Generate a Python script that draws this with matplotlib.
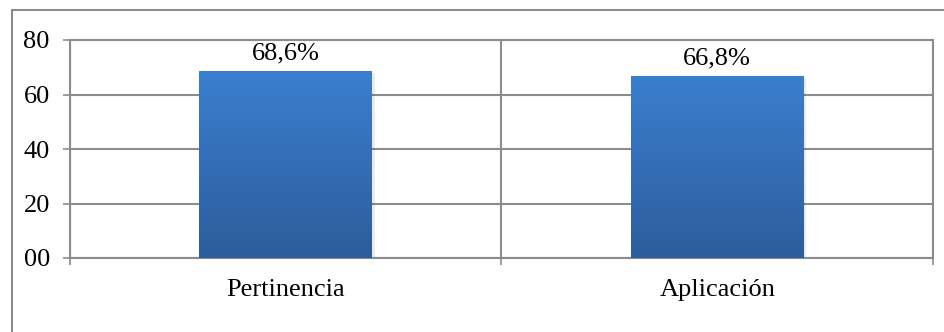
import matplotlib.pyplot as plt
import numpy as np
from matplotlib.patches import Rectangle
from matplotlib.colors import LinearSegmentedColormap

categorias = ["Pertinencia", "Aplicación"]
valores = [68.6, 66.8]
etiquetas = ["68,6%", "66,8%"]
yticks = [0, 20, 40, 60, 80]
ytick_labels = ["00", "20", "40", "60", "80"]

plt.rcParams['font.family'] = ['Liberation Serif', 'DejaVu Serif']
gris = '#8c8c8c'

fig = plt.figure(figsize=(9.45, 3.32), dpi=100)
ax = fig.add_axes([70 / 945, 1 - 258 / 332, 863 / 945, 218 / 332])

# marco exterior del grafico
fig.patches.append(Rectangle((12 / 945, -0.1), 1.2, 1 - 10 / 332 + 0.1,
                             transform=fig.transFigure, fill=False,
                             edgecolor=gris, linewidth=1.5, clip_on=False))

x = np.arange(1, len(categorias) + 1)
barras = ax.bar(x, valores, width=0.40, facecolor='none', edgecolor='none', zorder=3)

# degradado vertical de las barras
cmap = LinearSegmentedColormap.from_list('azul', ['#2c5d9b', '#3b7fd0'])
grad = np.linspace(0, 1, 256).reshape(-1, 1)
for b in barras:
    x0, w, h = b.get_x(), b.get_width(), b.get_height()
    # sombra suave
    ax.add_patch(Rectangle((x0 + 0.006, -0.8), w, h, facecolor='#000000',
                           alpha=0.08, edgecolor='none', zorder=2))
    im = ax.imshow(grad, extent=[x0, x0 + w, 0, h], origin='lower',
                   aspect='auto', cmap=cmap, zorder=3)
    im.set_clip_path(b)

for xi, v, t in zip(x, valores, etiquetas):
    ax.annotate(t, (xi, v), xytext=(0, 5), textcoords='offset points',
                ha='center', va='bottom', fontsize=19)

ax.set_xlim(0.5, len(categorias) + 0.5)
ax.set_ylim(0, 80)

ax.set_yticks(yticks)
ax.set_yticklabels(ytick_labels)
ax.set_xticks(np.arange(0.5, len(categorias) + 1, 1.0))
ax.set_xticklabels([])
ax.set_xticks(x, minor=True)
ax.set_xticklabels(categorias, minor=True)

ax.tick_params(axis='y', length=5, width=1.2, color=gris, pad=9.5, labelsize=19)
ax.tick_params(axis='x', which='major', length=5, width=1.2, color=gris)
ax.tick_params(axis='x', which='minor', length=0, pad=15, labelsize=19)

ax.grid(True, which='major', color=gris, linewidth=1.5, zorder=0)
ax.set_axisbelow(True)
for s in ax.spines.values():
    s.set_color(gris)
    s.set_linewidth(1.5)

fig.savefig('out.png', dpi=100)
